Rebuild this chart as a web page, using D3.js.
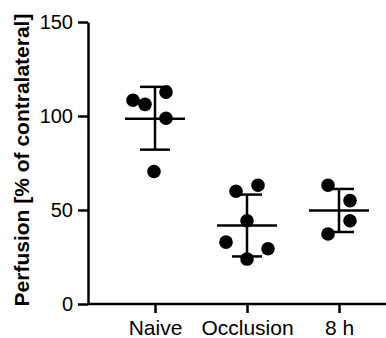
<!DOCTYPE html>
<html>
<head>
<meta charset="utf-8">
<script src="https://cdn.jsdelivr.net/npm/d3@7"></script>
<style>
  body { margin: 0; background: #fff; }
  text { font-family: "Liberation Sans", Arial, sans-serif; }
</style>
</head>
<body>
<script>
// groups on the x axis
let groups = ["Naive", "Occlusion", "8 h"];

// individual values per group (% of contralateral)
let naive = [108.4, 106.2, 112.7, 98.8, 70.5];
let occlusion = [60.0, 63.2, 44.3, 32.9, 29.4, 23.9];
let eightH = [63.2, 55.0, 44.3, 37.2];

// horizontal scatter of the dots, in px
let naiveJitter = [-22, -10, 11, 11, -1];
let occlusionJitter = [-11, 11, 0, -21, 21, 0];
let eightHJitter = [-11, 11, 11, -11];

// mean and SD shown as lines
let means = [98.6, 41.8, 49.7];
let sdUpper = [115.5, 58.2, 61.2];
let sdLower = [82.1, 25.3, 38.3];

let yTicks = [0, 50, 100, 150];

let width = 386,
    height = 338;

let svg = d3.select("body").append("svg")
    .attr("width", width).attr("height", height);

let x = d3.scalePoint().domain(groups).range([155, 339]);
let y = d3.scaleLinear().domain([0, 150]).range([304, 22]);

//EJE Y
let yAxis = svg.append("g")
    .attr("transform", "translate(88,0)")
    .call(d3.axisLeft(y).tickValues(yTicks).tickSize(10).tickSizeOuter(0).tickPadding(5));
yAxis.select(".domain").attr("stroke-width", 2.5);
yAxis.selectAll(".tick line").attr("stroke-width", 2.5);
yAxis.selectAll("text").attr("font-size", 20).attr("fill", "#000");

//EJE X
let xAxis = svg.append("g")
    .attr("transform", "translate(0,304)")
    .call(d3.axisBottom(x).tickSize(9).tickSizeOuter(0).tickPadding(7));
xAxis.select(".domain").remove();
xAxis.selectAll(".tick line").attr("stroke-width", 2.5);
xAxis.selectAll("text").attr("font-size", 21).attr("fill", "#000");
svg.append("line")
    .attr("x1", 87).attr("x2", 386)
    .attr("y1", y(0)).attr("y2", y(0))
    .attr("stroke", "#000").attr("stroke-width", 2.5);

//TITULO EJE Y
svg.append("text")
    .attr("transform", "translate(29,160) rotate(-90)")
    .attr("text-anchor", "middle")
    .attr("font-size", 21)
    .attr("font-weight", "bold")
    .text("Perfusion [% of contralateral]");

//PUNTOS
let sets = [[naive, naiveJitter], [occlusion, occlusionJitter], [eightH, eightHJitter]];
sets.forEach(([vals, jit], gi) => {
    svg.append("g").selectAll("circle")
        .data(vals)
        .join("circle")
        .attr("cx", (d, i) => x(groups[gi]) + jit[i])
        .attr("cy", (d) => y(d))
        .attr("r", 6.8)
        .attr("fill", "#000");
});

//MEDIA Y DESVIACION
let stats = svg.append("g").attr("stroke", "#000").attr("stroke-width", 2.5);
groups.forEach((g, i) => {
    let cx = x(g);
    stats.append("line").attr("x1", cx - 30).attr("x2", cx + 30)
        .attr("y1", y(means[i])).attr("y2", y(means[i]));
    stats.append("line").attr("x1", cx).attr("x2", cx)
        .attr("y1", y(sdUpper[i])).attr("y2", y(sdLower[i]));
    stats.append("line").attr("x1", cx - 15).attr("x2", cx + 15)
        .attr("y1", y(sdUpper[i])).attr("y2", y(sdUpper[i]));
    stats.append("line").attr("x1", cx - 15).attr("x2", cx + 15)
        .attr("y1", y(sdLower[i])).attr("y2", y(sdLower[i]));
});
</script>
</body>
</html>
